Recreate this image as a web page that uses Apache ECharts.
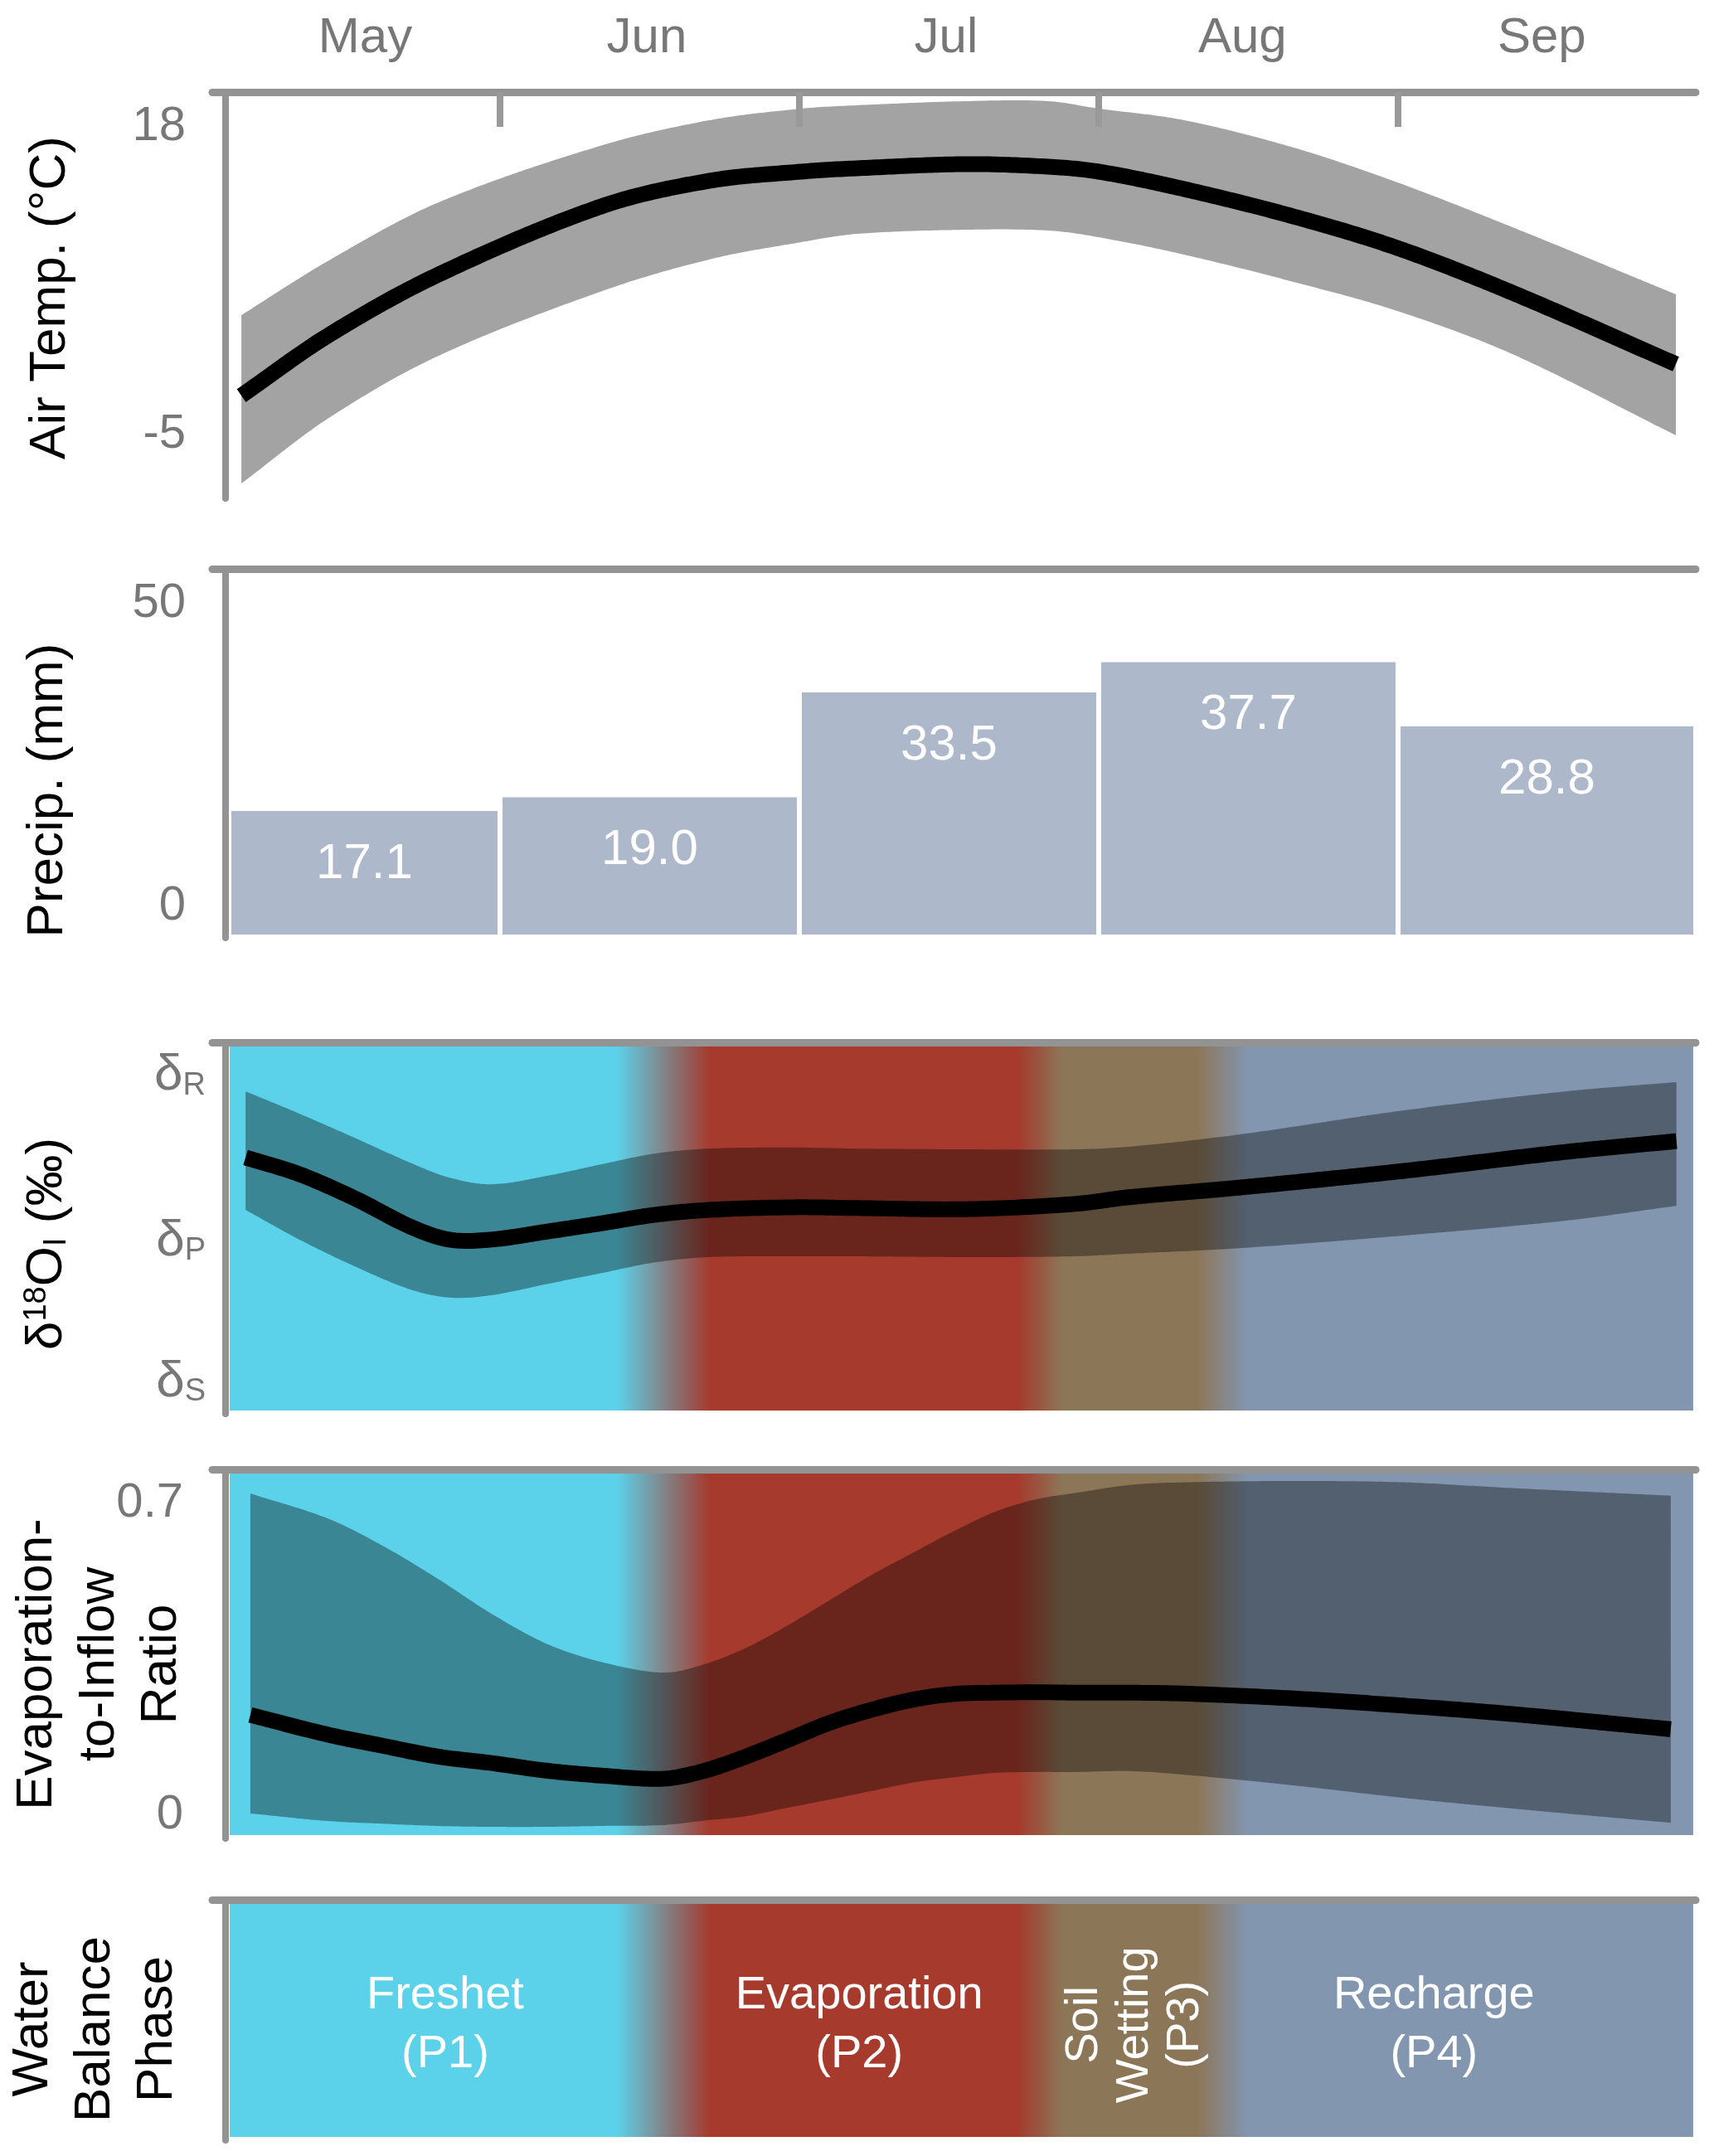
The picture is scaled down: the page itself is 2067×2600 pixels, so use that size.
<!DOCTYPE html>
<html>
<head>
<meta charset="utf-8">
<script src="https://cdn.jsdelivr.net/npm/echarts@6/dist/echarts.min.js"></script>
<style>
html,body{margin:0;padding:0;background:#fff;}
#c{width:2067px;height:2600px;}
</style>
</head>
<body>
<div id="c"></div>
<script>
// ---------------- DATA (x in months since 1 May: May=0..1, Jun=1..2, ...) ----------------
const months = ['May', 'Jun', 'Jul', 'Aug', 'Sep'];
const monthTicks = [1, 2, 3, 4];
const monthLabelPos = [0.55, 1.49, 2.49, 3.48, 4.48];

// Air temperature (°C)
const tempX     = [0.136, 0.424, 0.789, 1.338, 1.701, 2.006, 2.191, 2.557, 2.831, 3.0, 3.285, 3.651, 3.997, 4.382, 4.928];
const tempMean  = [-2.09, 2.38, 6.90, 12.05, 13.97, 14.65, 14.90, 15.21, 15.02, 14.65, 13.35, 11.30, 8.95, 5.60, 0.27];
const tempUpper = [3.93, 7.96, 12.30, 16.60, 18.50, 19.36, 19.61, 19.92, 19.92, 19.36, 18.50, 16.45, 13.85, 10.50, 5.48];
const tempLower = [-8.66, -3.82, 0.83, 5.70, 8.10, 9.38, 10.00, 10.31, 10.25, 9.75, 8.45, 6.41, 4.24, 1.01, -5.06];
const tempTicks = [-5, 18];

// Monthly precipitation (mm)
const precipValues = [17.1, 19.0, 33.5, 37.7, 28.8];
const precipTickPos = [3.9, 45.8];
const precipTickText = ['0', '50'];

// Lake-water isotope composition (relative scale between δS and δR)
const isoX     = [0.15, 0.33, 0.52, 0.70, 0.83, 0.97, 1.16, 1.34, 1.52, 1.70, 1.98, 2.19, 2.56, 2.92, 3.10, 3.47, 4.02, 4.56, 4.93];
const isoMean  = [6.90, 6.45, 5.78, 5.04, 4.69, 4.69, 4.91, 5.13, 5.36, 5.49, 5.56, 5.54, 5.51, 5.65, 5.83, 6.09, 6.54, 7.05, 7.34];
const isoUpper = [8.68, 8.08, 7.41, 6.76, 6.36, 6.18, 6.41, 6.72, 7.01, 7.14, 7.17, 7.14, 7.12, 7.12, 7.19, 7.52, 8.17, 8.68, 8.93];
const isoLower = [5.49, 4.69, 3.95, 3.35, 3.13, 3.19, 3.50, 3.79, 4.08, 4.22, 4.24, 4.24, 4.22, 4.24, 4.31, 4.46, 4.80, 5.20, 5.60];
const isoTickPos = [0.85, 4.65, 9.1];
const isoTickSub = ['S', 'P', 'R'];

// Evaporation-to-inflow ratio
const eiX     = [0.166, 0.424, 0.607, 0.789, 0.972, 1.155, 1.338, 1.546, 1.684, 1.823, 1.961, 2.100, 2.238, 2.377, 2.515, 2.654, 2.792, 2.931, 3.102, 3.285, 3.651, 4.017, 4.382, 4.911];
const eiMean  = [0.225, 0.181, 0.156, 0.132, 0.117, 0.100, 0.089, 0.082, 0.100, 0.132, 0.169, 0.207, 0.236, 0.259, 0.272, 0.275, 0.276, 0.275, 0.275, 0.273, 0.262, 0.246, 0.227, 0.193];
const eiUpper = [0.722, 0.666, 0.605, 0.532, 0.452, 0.385, 0.344, 0.320, 0.339, 0.376, 0.426, 0.482, 0.538, 0.588, 0.637, 0.681, 0.709, 0.724, 0.741, 0.747, 0.750, 0.747, 0.734, 0.717];
const eiLower = [0.004, -0.013, -0.019, -0.024, -0.026, -0.026, -0.024, -0.022, -0.012, -0.002, 0.017, 0.035, 0.054, 0.073, 0.085, 0.095, 0.097, 0.097, 0.099, 0.091, 0.067, 0.039, 0.015, -0.017];
const eiTicks = [0, 0.7];

// Water balance phases
const phaseNames = ['Freshet\n(P1)', 'Evaporation\n(P2)', 'Soil\nWetting\n(P3)', 'Recharge\n(P4)'];
const phaseCenters = [0.817, 2.20, 3.12, 4.12];
const phaseTransitions = [[1.39, 1.70], [2.73, 2.88], [3.33, 3.50]];
const seasonSpan = [0.097, 4.986];

// ---------------- STYLE ----------------
const FONT = '"Liberation Sans", Arial, Helvetica, sans-serif';
const AXIS_GRAY = '#939393';
const LABEL_GRAY = '#777777';
const PHASE_COLORS = ['#5BD2E9', '#A53A2D', '#8C7658', '#8296B0'];
const PHASE_LABEL_ROTATE = [0, 0, 90, 0];
const BAND_DARK = 'rgba(0,0,0,0.36)';
const X_MIN = 0.0388, X_MAX = 4.9945;

const gridTops = [111, 686, 1257, 1772, 2291];
const gridHeights = [490, 445, 448, 445, 290];
const grids = gridTops.map((t, i) => ({ left: 256, top: t, width: 1789, height: gridHeights[i] }));

function makeX(i) {
  const ax = {
    type: 'value', gridIndex: i, position: 'top', min: X_MIN, max: X_MAX, z: 10,
    axisLine: { show: true, onZero: false, lineStyle: { color: AXIS_GRAY, width: 9 } },
    axisTick: { show: false }, axisLabel: { show: false }, splitLine: { show: false }
  };
  if (i === 0) {
    ax.axisTick = { show: true, customValues: monthTicks, inside: true, length: 42,
      lineStyle: { color: '#999999', width: 8 } };
    ax.axisLabel = { show: true, customValues: monthLabelPos, margin: 35,
      formatter: v => months[Math.floor(v)], color: LABEL_GRAY, fontSize: 60, fontFamily: FONT };
  }
  return ax;
}
function makeY(i, min, max, label) {
  return {
    type: 'value', gridIndex: i, min: min, max: max, offset: -16, z: 10,
    axisLine: { show: true, onZero: false, lineStyle: { color: AXIS_GRAY, width: 8 } },
    axisTick: { show: false }, splitLine: { show: false },
    axisLabel: label || { show: false }
  };
}
const numLabel = (vals, margin, fmt) => ({
  show: true, customValues: vals, margin: margin, color: LABEL_GRAY, fontSize: 58, fontFamily: FONT,
  formatter: fmt || (v => String(v))
});

// Cubic Hermite sampling (y as a function of x) of projected pixel points — rendering only
function smoothPixels(P) {
  const n = P.length, out = [];
  const slope = i => {
    if (i === 0) return (P[1][1] - P[0][1]) / (P[1][0] - P[0][0]);
    if (i === n - 1) return (P[n - 1][1] - P[n - 2][1]) / (P[n - 1][0] - P[n - 2][0]);
    return (P[i + 1][1] - P[i - 1][1]) / (P[i + 1][0] - P[i - 1][0]);
  };
  for (let i = 0; i < n - 1; i++) {
    const x0 = P[i][0], x1 = P[i + 1][0], y0 = P[i][1], y1 = P[i + 1][1], h = x1 - x0;
    const m0 = slope(i), m1 = slope(i + 1);
    const steps = Math.max(8, Math.ceil(h / 4));
    for (let s = 0; s < steps; s++) {
      const t = s / steps, t2 = t * t, t3 = t2 * t;
      const y = (2 * t3 - 3 * t2 + 1) * y0 + (t3 - 2 * t2 + t) * h * m0 + (-2 * t3 + 3 * t2) * y1 + (t3 - t2) * h * m1;
      out.push([x0 + t * h, y]);
    }
  }
  out.push(P[n - 1].slice());
  return out;
}

// band (lower..upper) + mean line drawn from the data through the axis scales
function bandAndLine(gi, xs, lo, hi, mean, bandColor) {
  return {
    type: 'custom', xAxisIndex: gi, yAxisIndex: gi, silent: true, z: 3,
    data: xs.map((x, i) => [x, mean[i], lo[i], hi[i]]),
    encode: { x: 0, y: [1, 2, 3] },
    renderItem: function (params, api) {
      if (params.dataIndexInside !== 0) return null;
      const n = params.dataInsideLength;
      const U = [], L = [], M = [];
      for (let i = 0; i < n; i++) {
        const x = api.value(0, i);
        M.push(api.coord([x, api.value(1, i)]));
        L.push(api.coord([x, api.value(2, i)]));
        U.push(api.coord([x, api.value(3, i)]));
      }
      const su = smoothPixels(U), sl = smoothPixels(L).reverse();
      return { type: 'group', children: [
        { type: 'polygon', shape: { points: su.concat(sl) }, style: { fill: bandColor } },
        { type: 'polyline', shape: { points: smoothPixels(M) },
          style: { stroke: '#000000', lineWidth: 19, fill: null, lineCap: 'butt', lineJoin: 'round' } }
      ] };
    }
  };
}
function phaseBackground(gi) {
  return {
    type: 'custom', xAxisIndex: gi, yAxisIndex: gi, silent: true, z: 1,
    data: [[seasonSpan[0], seasonSpan[1]]], encode: { x: [0, 1] },
    renderItem: function (params, api) {
      const cs = params.coordSys;
      const px = m => api.coord([m, 0])[0];
      const x0 = px(api.value(0)), x1 = px(api.value(1)), W = x1 - x0;
      const f = m => Math.max(0, Math.min(1, (px(m) - x0) / W));
      const stops = [{ offset: 0, color: PHASE_COLORS[0] }];
      phaseTransitions.forEach((t, k) => {
        stops.push({ offset: f(t[0]), color: PHASE_COLORS[k] });
        stops.push({ offset: f(t[1]), color: PHASE_COLORS[k + 1] });
      });
      stops.push({ offset: 1, color: PHASE_COLORS[PHASE_COLORS.length - 1] });
      return { type: 'rect', shape: { x: x0, y: cs.y + 5, width: W, height: cs.height - 9 },
        style: { fill: { type: 'linear', x: 0, y: 0, x2: 1, y2: 0, colorStops: stops } } };
    }
  };
}

const series = [];
// Panel 1: air temperature
series.push(bandAndLine(0, tempX, tempLower, tempUpper, tempMean, '#A3A3A3'));
// Panel 2: precipitation bars spanning each month
series.push({
  type: 'custom', xAxisIndex: 1, yAxisIndex: 1, silent: true, z: 2,
  data: precipValues.map((v, i) => [i, i + 1, v]), encode: { x: [0, 1], y: 2 },
  renderItem: function (params, api) {
    const cs = params.coordSys;
    const v = api.value(2);
    const axisEdge = cs.x + 20;
    const x0 = Math.max(api.coord([api.value(0), 0])[0], axisEdge) + 3;
    const x1 = Math.min(api.coord([api.value(1), 0])[0], cs.x + cs.width) - 3;
    const yTop = api.coord([api.value(0), v])[1];
    const yBot = api.coord([api.value(0), 0])[1];
    return { type: 'group', children: [
      { type: 'rect', shape: { x: x0, y: yTop, width: x1 - x0, height: yBot - yTop }, style: { fill: '#ADB8CA' } },
      { type: 'text', x: (x0 + x1) / 2, y: yTop + 64,
        style: { text: v.toFixed(1), fill: '#ffffff', fontSize: 60, fontFamily: FONT, align: 'center', verticalAlign: 'middle' } }
    ] };
  }
});
// Panel 3: isotopes
series.push(phaseBackground(2));
series.push(bandAndLine(2, isoX, isoLower, isoUpper, isoMean, BAND_DARK));
// Panel 4: E/I
series.push(phaseBackground(3));
series.push(bandAndLine(3, eiX, eiLower, eiUpper, eiMean, BAND_DARK));
// Panel 5: phases
series.push(phaseBackground(4));
series.push({
  type: 'custom', xAxisIndex: 4, yAxisIndex: 4, silent: true, z: 3,
  data: phaseCenters.map((x, i) => [x, 0.48, i]), encode: { x: 0, y: 1 },
  renderItem: function (params, api) {
    const i = api.value(2);
    const p = api.coord([api.value(0), api.value(1)]);
    const rot = PHASE_LABEL_ROTATE[i];
    return { type: 'text', x: p[0], y: p[1], rotation: rot * Math.PI / 180,
      style: { text: phaseNames[i], fill: '#ffffff', fontSize: 56, fontFamily: FONT,
        lineHeight: rot ? 61 : 71, align: 'center', verticalAlign: 'middle' } };
  }
});

const titleStyle = (text, lh) => ({ text: text, fill: '#000', fontSize: 62, fontFamily: FONT,
  align: 'center', verticalAlign: 'middle', lineHeight: lh || 70 });

const option = {
  animation: false,
  backgroundColor: '#ffffff',
  grid: grids,
  xAxis: [0, 1, 2, 3, 4].map(makeX),
  yAxis: [
    makeY(0, -9.77, 20.6, numLabel(tempTicks, 48)),
    makeY(1, -0.46, 50.6, numLabel(precipTickPos, 48, v => precipTickText[v > 25 ? 1 : 0])),
    makeY(2, 0, 10, {
      show: true, customValues: isoTickPos, margin: 24,
      formatter: v => {
        let k = 0; isoTickPos.forEach((p, j) => { if (Math.abs(p - v) < Math.abs(isoTickPos[k] - v)) k = j; });
        return '{d|δ}{s|' + isoTickSub[k] + '}';
      },
      rich: {
        d: { fontSize: 62, fontFamily: FONT, color: LABEL_GRAY, lineHeight: 62 },
        s: { fontSize: 38, fontFamily: FONT, color: LABEL_GRAY, lineHeight: 20, verticalAlign: 'bottom' }
      }
    }),
    makeY(3, -0.052, 0.776, numLabel(eiTicks, 51)),
    makeY(4, 0, 1, null)
  ],
  series: series,
  graphic: [
    { type: 'text', x: 61, y: 359, rotation: Math.PI / 2, style: titleStyle('Air Temp. (°C)') },
    { type: 'text', x: 58, y: 953, rotation: Math.PI / 2, style: titleStyle('Precip. (mm)') },
    { type: 'text', x: 57, y: 1500, rotation: Math.PI / 2, style: {
        text: '{a|δ}{p|18}{a|O}{b|I}{a| (‰)}', align: 'center', verticalAlign: 'middle', fill: '#000',
        rich: {
          a: { fontSize: 62, fontFamily: FONT, fill: '#000', lineHeight: 62 },
          p: { fontSize: 38, fontFamily: FONT, fill: '#000', lineHeight: 45, verticalAlign: 'top' },
          b: { fontSize: 38, fontFamily: FONT, fill: '#000', lineHeight: 12, verticalAlign: 'bottom' }
        } } },
    { type: 'text', x: 120, y: 2007, rotation: Math.PI / 2, style: titleStyle('Evaporation-\nto-Inflow\nRatio', 75) },
    { type: 'text', x: 115, y: 2447, rotation: Math.PI / 2, style: titleStyle('Water\nBalance\nPhase', 75) }
  ]
};

const chart = echarts.init(document.getElementById('c'), null, { renderer: 'canvas', width: 2067, height: 2600 });
chart.setOption(option);
</script>
</body>
</html>
